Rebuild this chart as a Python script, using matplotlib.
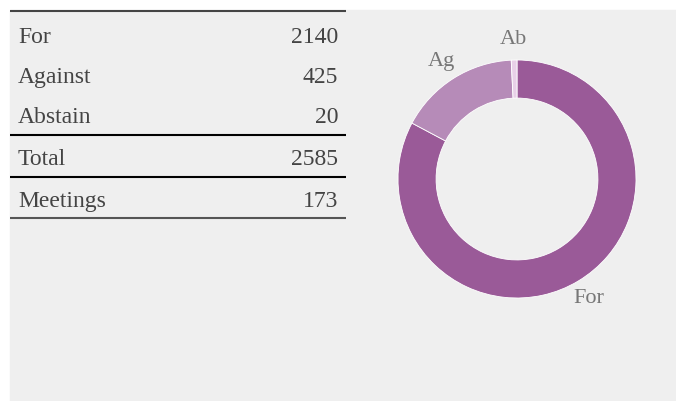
import numpy as np
import matplotlib.pyplot as plt

# vote summary
rows = ["For", "Against", "Abstain", "Total", "Meetings"]
counts = [2140, 425, 20, 2585, 173]

# donut slices
slices = ["For", "Ag", "Ab"]
votes = [2140, 425, 20]
colors = ["#9a5a98", "#b68bb8", "#e8d0e8"]

W, H = 676, 401
fig = plt.figure(figsize=(W / 100, H / 100), dpi=100)
fig.patch.set_facecolor("white")

# full-figure axes in pixel units for the table
ax = fig.add_axes([0, 0, 1, 1])
ax.set_xlim(0, W)
ax.set_ylim(H, 0)
ax.axis("off")
ax.add_patch(plt.Rectangle((10, 10), W - 10, H - 10, color="#efefef", zorder=0))

baselines = [43, 83, 123, 165, 207]
for name, val, yb in zip(rows, counts, baselines):
    ax.text(18, yb, name, ha="left", va="baseline", fontsize=17,
            family="Liberation Serif", color="#444444")
    ax.text(338, yb, str(val), ha="right", va="baseline", fontsize=17,
            family="Liberation Serif", color="#444444")

for yl, c in [(11, "#444444"), (135, "black"), (177, "black"), (218, "#555555")]:
    ax.plot([10, 346], [yl, yl], color=c, lw=1.5, solid_capstyle="butt")

# donut
cx, cy, r = 517, 179, 119
pax = fig.add_axes([(cx - r) / W, (H - cy - r) / H, 2 * r / W, 2 * r / H])
pax.set_facecolor("none")
wedges, _ = pax.pie(votes, colors=colors, startangle=90, counterclock=False,
                    radius=1, wedgeprops=dict(width=0.32, edgecolor="white", linewidth=0.6))
pax.set_xlim(-1, 1)
pax.set_ylim(-1, 1)
pax.set_aspect("equal")
pax.axis("off")

for w, lab in zip(wedges, slices):
    mid = np.deg2rad((w.theta1 + w.theta2) / 2)
    pax.text(1.18 * np.cos(mid), 1.17 * np.sin(mid), lab, ha="center", va="center",
             fontsize=16, family="Liberation Serif", color="#777777", clip_on=False)

fig.savefig("out.png", dpi=100)
